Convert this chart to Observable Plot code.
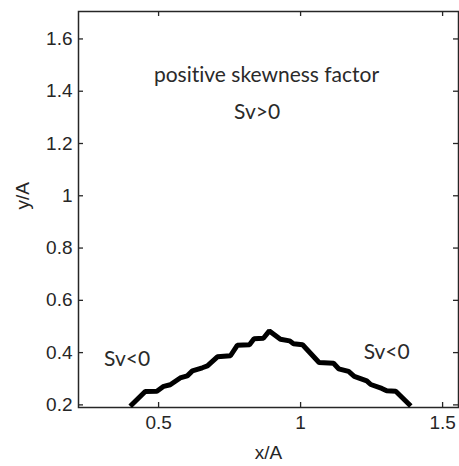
<!DOCTYPE html>
<html>
<head>
<meta charset="utf-8">
<script src="https://cdn.jsdelivr.net/npm/d3@7"></script>
<script src="https://cdn.jsdelivr.net/npm/@observablehq/plot@0.6"></script>
<style>
  html, body { margin: 0; padding: 0; background: #fff; }
  #chart svg { display: block; }
  #chart svg text { font-variant-ligatures: none; font-feature-settings: "liga" 0, "clig" 0; }
</style>
</head>
<body>
<div id="chart"></div>
<script>
// Boundary curve y/A against x/A
const xs = [0.400, 0.453, 0.494, 0.518, 0.541, 0.576, 0.601, 0.619, 0.654, 0.672,
            0.707, 0.753, 0.777, 0.820, 0.836, 0.869, 0.890, 0.929, 0.961, 0.975,
            1.007, 1.065, 1.116, 1.134, 1.169, 1.189, 1.233, 1.247, 1.286, 1.303,
            1.335, 1.388];
const ys = [0.195, 0.251, 0.252, 0.271, 0.277, 0.303, 0.311, 0.330, 0.342, 0.349,
            0.384, 0.388, 0.428, 0.430, 0.453, 0.455, 0.483, 0.451, 0.445, 0.434,
            0.430, 0.362, 0.359, 0.338, 0.328, 0.309, 0.292, 0.278, 0.263, 0.254,
            0.252, 0.196];

// Axis ticks and their labels
const xTicks = [0.5, 1, 1.5];
const xTickLabels = ["0.5", "1", "1.5"];
const yTicks = [0.2, 0.4, 0.6, 0.8, 1, 1.2, 1.4, 1.6];
const yTickLabels = ["0.2", "0.4", "0.6", "0.8", "1", "1.2", "1.4", "1.6"];
const xDomain = [0.218, 1.556];
const yDomain = [0.19, 1.705];

// Region annotations: centred titles and left-aligned side notes
const titleText = ["positive skewness factor", "Sv>0"];
const titleX = [0.88, 0.847];
const titleY = [1.46, 1.319];
const sideText = ["Sv<0", "Sv<0"];
const sideX = [0.308, 1.222];
const sideY = [0.376, 0.40];

const curve = xs.map((x, i) => ({x, y: ys[i]}));
const titles = titleText.map((t, i) => ({t, x: titleX[i], y: titleY[i]}));
const sides = sideText.map((t, i) => ({t, x: sideX[i], y: sideY[i]}));

const W = 459, H = 466;
const mL = 78, mT = 11, mR = 1, mB = 59;
const innerW = W - mL - mR, innerH = H - mT - mB;
const tickLen = 5;
const ink = "#262626";
const axisFont = "Liberation Sans, Arial, sans-serif";
const noteFont = "Lato, 'Open Sans', sans-serif";

const plot = Plot.plot({
  width: W,
  height: H,
  marginLeft: mL,
  marginTop: mT,
  marginRight: mR,
  marginBottom: mB,
  style: {background: "#fff", fontFamily: axisFont, fontSize: "19px", color: ink},
  x: {domain: xDomain, label: null},
  y: {domain: yDomain, label: null},
  marks: [
    // tick labels only; tick marks are drawn inward below
    Plot.axisX({ticks: xTicks, tickSize: 0, tickPadding: 8, tickFormat: (d, i) => xTickLabels[i], fill: ink, label: null}),
    Plot.axisY({ticks: yTicks, tickSize: 0, tickPadding: 6, tickFormat: (d, i) => yTickLabels[i], fill: ink, label: null}),
    // inward ticks on all four sides
    Plot.ruleX(xTicks, {x: d => d, insetTop: innerH - tickLen, stroke: ink, strokeWidth: 1.3}),
    Plot.ruleX(xTicks, {x: d => d, insetBottom: innerH - tickLen, stroke: ink, strokeWidth: 1.3}),
    Plot.ruleY(yTicks, {y: d => d, insetRight: innerW - tickLen, stroke: ink, strokeWidth: 1.3}),
    Plot.ruleY(yTicks, {y: d => d, insetLeft: innerW - tickLen, stroke: ink, strokeWidth: 1.3}),
    Plot.frame({stroke: ink, strokeWidth: 1.5}),
    Plot.line(curve, {x: "x", y: "y", stroke: "#000", strokeWidth: 5, strokeLinejoin: "miter", strokeLinecap: "butt"}),
    Plot.text(titles, {x: "x", y: "y", text: "t", textAnchor: "middle", fontFamily: noteFont, fontSize: 21, fill: "#2a2a2a"}),
    Plot.text(sides, {x: "x", y: "y", text: "t", textAnchor: "start", fontFamily: noteFont, fontSize: 21, fill: "#2a2a2a"}),
    // axis titles
    Plot.text(["x/A"], {frameAnchor: "bottom", dy: 45, text: d => d, fontSize: 19, fill: ink, lineAnchor: "middle"}),
    Plot.text(["y/A"], {frameAnchor: "left", dx: -56, rotate: -90, text: d => d, fontSize: 19, fill: ink, lineAnchor: "middle"})
  ]
});

document.getElementById("chart").appendChild(plot);
</script>
</body>
</html>
